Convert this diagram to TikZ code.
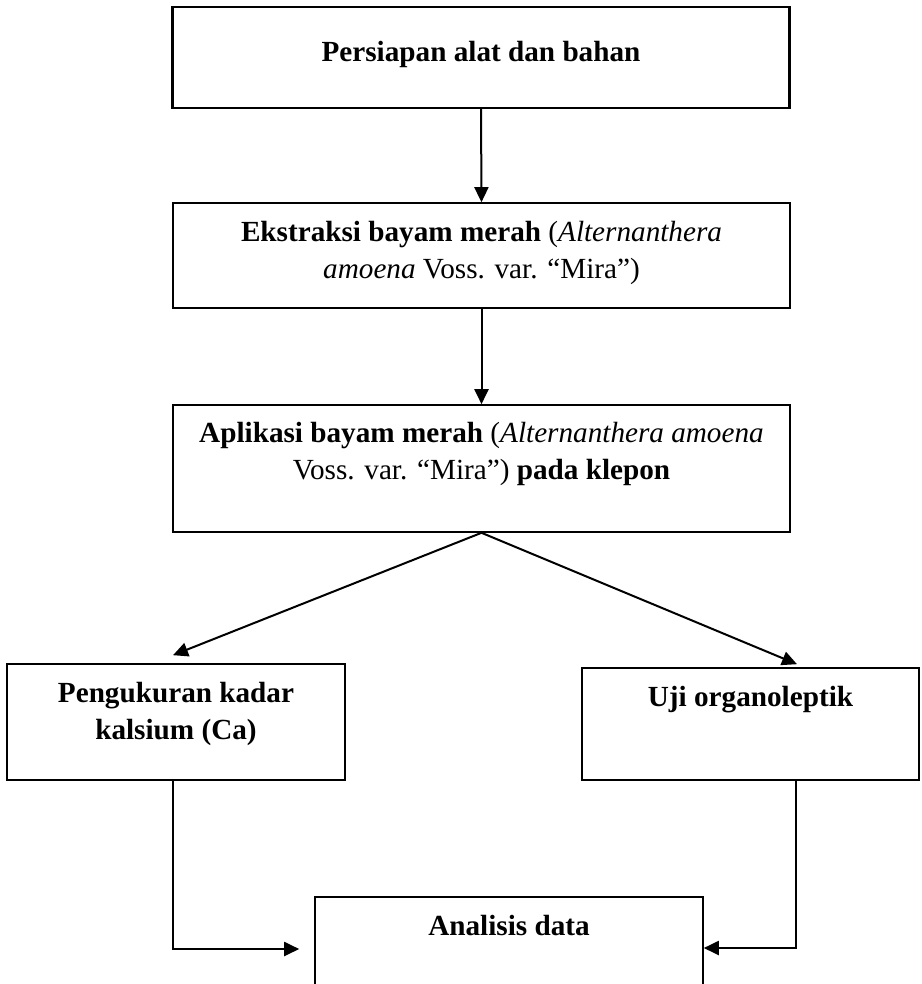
\documentclass[tikz,border=0pt]{standalone}
\usepackage{fontspec}
\setmainfont{Liberation Serif}
\usepackage{tikz}
\usetikzlibrary{calc}
\usetikzlibrary{arrows.meta}
\tikzstyle{procnode} = [draw, rectangle, line width=0.8pt, align=center, inner sep=0pt, font=\fontsize{14.6}{18.5}\selectfont]
\tikzstyle{wideproc} = [procnode, minimum width=308.5pt]
\tikzstyle{flowarrow} = [line width=1pt, -{Triangle[length=7.5pt, width=7pt]}]

\begin{document}
\begin{tikzpicture}[x=0.5pt, y=-0.5pt]
\useasboundingbox (0,0) rectangle (921,984);
\clip (0,0) rectangle (921,984);
\node[wideproc, line width=1.2pt, minimum height=50.5pt, text depth=6.5pt] (persiapan) at (481,57.5) {\textbf{Persiapan alat dan bahan}};
\node[wideproc, minimum height=52.5pt, text depth=6pt] (ekstraksi) at ($(persiapan)+(0.5,198)$)
{\textbf{Ekstraksi bayam merah} (\textit{Alternanthera}\\ \textit{amoena} Voss. var. “Mira”)};
\node[wideproc, minimum height=63.5pt, text depth=18pt] (aplikasi) at ($(ekstraksi)+(0,213)$)
{\textbf{Aplikasi bayam merah} (\textit{Alternanthera amoena}\\ Voss. var. “Mira”) \textbf{pada klepon}};

\node[procnode, minimum width=169pt, minimum height=58pt, text depth=11pt] (pengukuran) at ($(aplikasi)+(-305.5,253.5)$)
{\textbf{Pengukuran kadar}\\ \textbf{kalsium (Ca)}};
\node[procnode, minimum width=168.5pt, minimum height=56pt, text depth=28pt] (uji) at ($(aplikasi)+(269,255.5)$)
{\textbf{Uji organoleptik}};
\node[procnode, minimum width=194pt, minimum height=55pt, text depth=27pt] (analisis) at ($(aplikasi)+(27.5,483.5)$)
{\textbf{Analisis data}};

\draw[flowarrow] (persiapan.south) -- (ekstraksi.north);
\draw[flowarrow] (ekstraksi.south) -- (aplikasi.north);
\draw[flowarrow] (aplikasi.south) -- ($(pengukuran.north)+(-3,-8)$);
\draw[flowarrow] (aplikasi.south) -- ($(uji.north)+(46.5,-3)$);
\draw[flowarrow] ($(pengukuran.south)+(-3,0)$) |- ($(analisis.west)+(-15,-3)$);
\draw[flowarrow] ($(uji.south)+(45.5,0)$) |- ($(analisis.east)+(0,-4)$);
\end{tikzpicture}
\end{document}
